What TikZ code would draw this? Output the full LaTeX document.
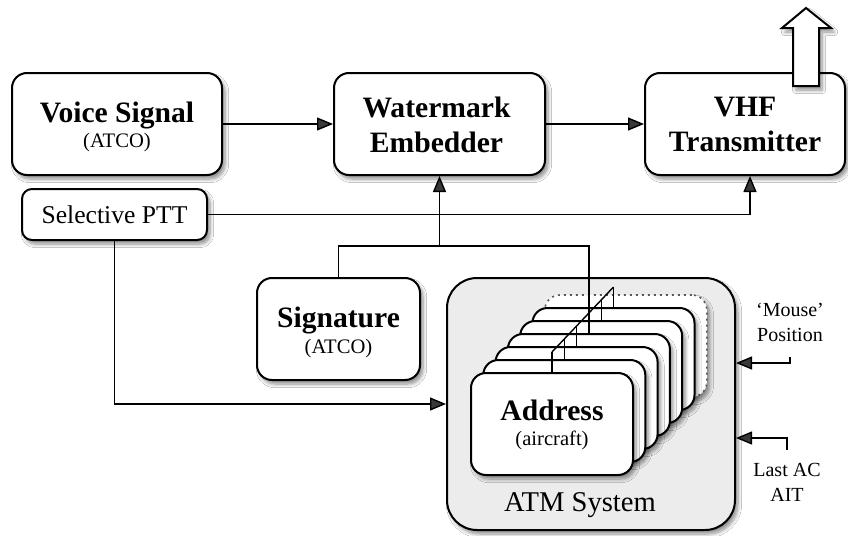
\documentclass[tikz,border=0pt]{standalone}
\usepackage{fontspec}
\setmainfont{Liberation Serif}
\usetikzlibrary{arrows.meta,shadows.blur,calc}

\newcommand\boxtitle{\bfseries\fontsize{14.8}{17}\selectfont}
\newcommand\boxsub{\fontsize{10.3}{12}\selectfont}
\newcommand\sidenote{\fontsize{10}{12.5}\selectfont}

\begin{document}
\begin{tikzpicture}[x=0.5pt,y=-0.5pt,
  soft/.style={blur shadow={shadow xshift=1.5pt,shadow yshift=-2pt,shadow blur steps=7,shadow opacity=45}},
  box/.style={draw,line width=1pt,fill=white,rounded corners=7.5pt,inner sep=0pt,soft},
  card/.style={box,minimum width=81pt,minimum height=51pt},
  ttl/.style={anchor=base,inner sep=0pt,font=\boxtitle},
  sub/.style={anchor=base,inner sep=0pt,font=\boxsub},
  wire/.style={line width=0.7pt},
  conn/.style={wire,-{Triangle[length=8pt,width=6.5pt]}},
  note/.style={align=center,inner sep=0pt,font=\sidenote}]

\useasboundingbox[fill=white] (0,0) rectangle (848,536);

% top row
\node[box,minimum width=105pt,minimum height=51pt] (vs) at (117,124) {};
\node[ttl] (vst) at ($(vs.center)+(0,-2)$) {Voice Signal};
\node[sub] (vss) at ($(vs.center)+(0,23)$) {(ATCO)};

\node[box,minimum width=105.5pt,minimum height=51pt] (wm) at (439.5,124) {};
\node[ttl] (wmt) at ($(wm.center)+(-3,-7)$) {Watermark};
\node[ttl] (wms) at ($(wm.center)+(-3,28)$) {Embedder};

\node[box,minimum width=100pt,minimum height=51pt] (vhf) at (745,124) {};
\node[ttl] (vhft) at ($(vhf.center)+(0,-8)$) {VHF};
\node[ttl] (vhfs) at ($(vhf.center)+(0,27)$) {Transmitter};

% antenna output arrow
\draw[line width=1pt,fill=white,soft] (793,86) -- (793,28) -- (782,28) -- (806,8)
  -- (831,28) -- (819,28) -- (819,86) -- cycle;

\node[box,rounded corners=5pt,minimum width=92.5pt,minimum height=25.5pt] (ptt) at (114.5,214.5)
  {\fontsize{12.8}{14}\selectfont Selective PTT};

\node[box,minimum width=81.5pt,minimum height=51pt] (sig) at (338.5,329) {};
\node[ttl] (sigt) at ($(sig.center)+(0,-2)$) {Signature};
\node[sub] (sigs) at ($(sig.center)+(0,24)$) {(ATCO)};

% ATM system with its stack of address cards
\node[box,fill=gray!15,rounded corners=15pt,minimum width=144pt,minimum height=126pt] (atm) at (591,404) {};
\node[inner sep=0pt,font=\fontsize{14.3}{16}\selectfont] (atmlbl) at (580,505) {ATM System};

\node[card,dotted,draw=gray!70!black,line width=0.8pt] (c6) at ({552+12.3*6},{424-13*6}) {};
\foreach \k in {5,...,0}
  \node[card] (c\k) at ({552+12.3*\k},{424-13*\k}) {};
\node[ttl] (adt) at ($(c0.center)+(0,-4)$) {Address};
\node[sub] (ads) at ($(c0.center)+(0,21)$) {(aircraft)};

% address bus across the stack
\foreach \k in {0,...,5}
  \draw[wire] (c\k.north) -- ++(0,-20);
\draw[wire] ($(c0.north)+(0,-20)$) -- ($(c5.north)+(0,-20)$);

% signal flow
\draw[conn] (vs.east) -- (wm.west);
\draw[conn] (wm.east) -- (vhf.west);
\draw[conn] (ptt.east) -| ($(vhf.south)+(5,0)$);
\draw[wire] (sig.north) -- (sig.north |- 0,246) -| (c3.north);
\draw[conn] (wm.south |- 0,246) -- (wm.south);
\draw[conn] (ptt.south) |- (atm.west);

% side inputs
\node[note] (mouse) at (790,322) {`Mouse'\\Position};
\coordinate (m1) at (790,357);
\draw[conn] (m1) -- (790,363) -- (atm.east |- 0,363);
\node[note] (lastac) at (787,482) {Last AC\\AIT};
\coordinate (l1) at (787,450);
\draw[conn] (l1) -- (787,438) -- (atm.east |- 0,438);

\end{tikzpicture}
\end{document}
